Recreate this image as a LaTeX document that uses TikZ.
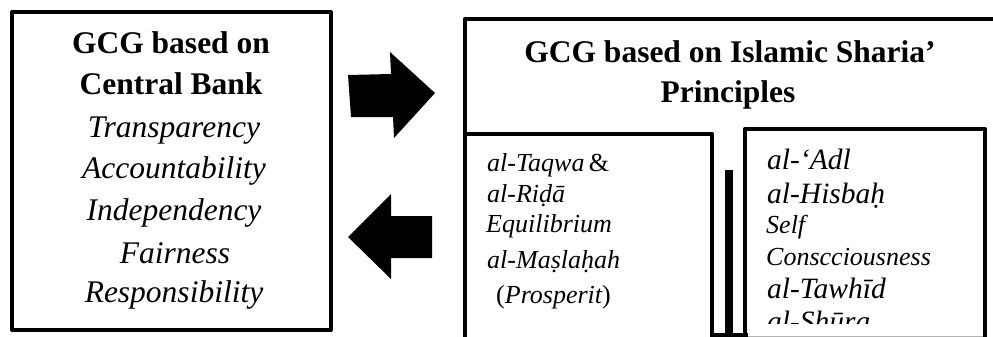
\documentclass[tikz,border=0pt]{standalone}
\usepackage{fontspec}
\setmainfont{Liberation Serif}
\begin{document}
\begin{tikzpicture}[x=1pt,y=-1pt,
  frame/.style={line width=4.5pt, line join=round, line cap=rect},
  big/.style={font=\fontsize{31.5}{36}\selectfont, inner sep=0pt, anchor=base},
  bigb/.style={big, font=\fontsize{31.5}{36}\selectfont\bfseries},
  bigi/.style={big, font=\fontsize{31.5}{36}\selectfont\itshape},
  mid/.style={font=\fontsize{26}{30}\selectfont\itshape, inner sep=0pt, anchor=base west},
  lrg/.style={font=\fontsize{29.5}{34}\selectfont\itshape, inner sep=0pt, anchor=base west},
  blockarrow/.style={fill=black}]
\useasboundingbox (0,0) rectangle (993,337);
\clip (0,0) rectangle (993,337);

% left box
\draw[frame, line width=4pt] (12,12) rectangle (331,330);
\node[bigb] (t1) at (171,53) {GCG based on};
\node[bigb] (t2) at (171,95) {Central Bank};
\node[bigi] (t3) at (174,137) {Transparency};
\node[bigi] (t4) at (174,178) {Accountability};
\node[bigi] (t5) at (174,220) {Independency};
\node[bigi] (t6) at (175,263) {Fairness};
\node[bigi] (t7) at (174,302) {Responsibility};

% block arrows
\fill[blockarrow] (348,75) -- (391,74) -- (390,52) -- (435,93) -- (394,138) -- (393,117) -- (351,117) -- cycle;
\fill[blockarrow] (348,237) -- (391,194) -- (391,216) -- (432,216) -- (432,258) -- (391,258) -- (391,279) -- cycle;

% right big box
\draw[frame] (1000,19) -- (465,19) -- (465,345);
\node[bigb] (h1) at (730,63) {GCG based on Islamic Sharia’};
\node[bigb] (h2) at (728,102) {Principles};

% left inner box
\draw[frame] (465,134) -- (712,134) -- (712,345);
\node[mid] (a1) at (487,171) {al-Taqwa\,\upshape\&};
\node[mid] (a2) at (487,202) {al-Riḍā};
\node[mid] (a3) at (486,232) {Equilibrium};
\node[mid] (a4) at (487,268) {al-Maṣlaḥah};
\node[mid] (a5) at (496,303) {\upshape(\itshape Prosperit\upshape)};

% separator bar
\fill (725,170) rectangle (733,345);

% right inner box
\draw[frame] (745,345) -- (745,129) -- (985,129) -- (985,345);
\fill (710,333) rectangle (748,337);
\draw[gray!60, line width=1pt] (748,336.5) -- (983,336.5);
\node[lrg] (b1) at (767,169) {al-‘Adl};
\node[lrg] (b2) at (767,203) {al-Hisbaḥ};
\node[mid] (b3) at (766,233) {Self};
\node[mid] (b4) at (766,265) {Conscciousness};
\node[lrg] (b5) at (767,298) {al-Tawhīd};
\begin{scope}
  \clip (748,130) rectangle (982,323);
  \node[lrg] (b6) at (767,331) {al-Shūra};
\end{scope}
\end{tikzpicture}
\end{document}
